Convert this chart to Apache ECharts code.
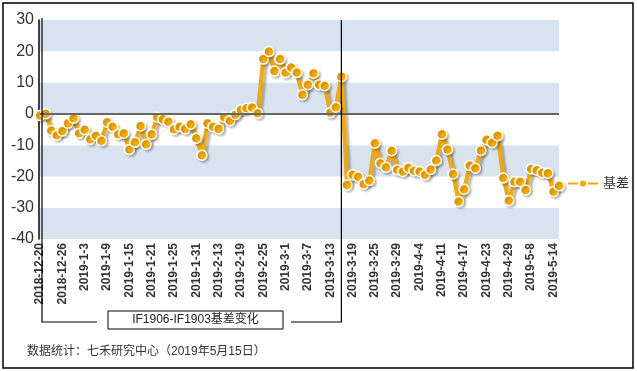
<!DOCTYPE html>
<html><head><meta charset="utf-8">
<script src="https://cdn.jsdelivr.net/npm/echarts@6/dist/echarts.min.js"></script>
<style>html,body{margin:0;padding:0;background:#fff}#c{width:637px;height:371px}</style>
</head><body><div id="c"></div>
<script>
var dates = ['2018-12-20','2018-12-21','2018-12-24','2018-12-25','2018-12-26','2018-12-27','2018-12-28',
'2019-1-2','2019-1-3','2019-1-4','2019-1-7','2019-1-8','2019-1-9','2019-1-10','2019-1-11','2019-1-14','2019-1-15',
'2019-1-16','2019-1-17','2019-1-18','2019-1-21','2019-1-22','2019-1-23','2019-1-24','2019-1-25','2019-1-28',
'2019-1-29','2019-1-30','2019-1-31','2019-2-1','2019-2-11','2019-2-12','2019-2-13','2019-2-14','2019-2-15',
'2019-2-18','2019-2-19','2019-2-20','2019-2-21','2019-2-22','2019-2-25','2019-2-26','2019-2-27','2019-2-28',
'2019-3-1','2019-3-4','2019-3-5','2019-3-6','2019-3-7','2019-3-8','2019-3-11','2019-3-12','2019-3-13',
'2019-3-14','2019-3-15','2019-3-18','2019-3-19','2019-3-20','2019-3-21','2019-3-22','2019-3-25','2019-3-26',
'2019-3-27','2019-3-28','2019-3-29','2019-4-1','2019-4-2','2019-4-3','2019-4-4','2019-4-8','2019-4-9',
'2019-4-10','2019-4-11','2019-4-12','2019-4-15','2019-4-16','2019-4-17','2019-4-18','2019-4-19','2019-4-22',
'2019-4-23','2019-4-24','2019-4-25','2019-4-26','2019-4-29','2019-4-30','2019-5-6','2019-5-7','2019-5-8',
'2019-5-9','2019-5-10','2019-5-13','2019-5-14','2019-5-15'];

var basis = [-0.5,0,-5.3,-6.8,-5.5,-3,-1.4,-6.2,-5.1,-8.1,
-7,-8.6,-2.7,-4.1,-6.5,-6.2,-11.4,-9.1,-3.9,-9.7,
-6.5,-1.1,-1.7,-2.5,-4.9,-4.1,-4.8,-3.3,-7.8,-13.2,
-3,-4.1,-4.8,-1.1,-2.2,-0.3,1.3,1.8,2,0.2,
17.5,19.9,13.7,17.5,13.2,14.8,13.2,6.1,9.3,13,
9.3,9,0.4,2.1,11.9,-22.7,-19.5,-20.1,-22.4,-21.3,
-9.4,-15.8,-17.1,-11.8,-17.9,-18.4,-17.2,-18.2,-18.4,-19.5,
-17.8,-14.9,-6.5,-11.4,-19.2,-28,-24.1,-16.5,-17.4,-11.7,
-8.3,-9.2,-7,-20.5,-27.7,-21.7,-21.7,-24.3,-17.6,-18,
-18.8,-19,-24.8,-23];

var seriesName = '基差';
var yMin = -40, yMax = 30, yStep = 10;
var splitDate = '2019-3-15';
var bracketTitle = 'IF1906-IF1903基差变化';
var sourceNote = '数据统计：七禾研究中心（2019年5月15日）';

var chart = echarts.init(document.getElementById('c'), null, {renderer:'canvas'});
var font = '"Liberation Sans", Arial, "Noto Sans CJK SC", sans-serif';
chart.setOption({
  animation:false,
  grid:{left:40, right:78, top:20, bottom:132, containLabel:false},
  legend:{data:[seriesName], left:562, top:172, itemWidth:30, itemHeight:10, itemGap:6,
    textStyle:{fontSize:13, color:'#333', fontFamily:font}},
  xAxis:{type:'category', data:dates, boundaryGap:false,
    axisLine:{show:false}, axisTick:{show:false},
    axisLabel:{rotate:90, interval:3, fontSize:12, fontWeight:'bold', color:'#333', margin:4, fontFamily:font}},
  yAxis:{type:'value', min:yMin, max:yMax, interval:yStep, offset:1,
    axisLine:{show:true, lineStyle:{color:'#000', width:1.5}}, axisTick:{show:false},
    axisLabel:{fontSize:16, color:'#333', margin:5, fontFamily:font},
    splitLine:{show:false},
    splitArea:{show:true, areaStyle:{color:['#d9e3ef','#ffffff']}}},
  series:[{name:seriesName, type:'line', data:basis, symbol:'circle', symbolSize:10,
    showSymbol:true, showAllSymbol:true,
    lineStyle:{color:'#f5a800', width:4, shadowColor:'rgba(0,0,0,0.28)', shadowBlur:2, shadowOffsetX:3, shadowOffsetY:3},
    itemStyle:{color:'#f5a800', borderColor:'#fff', borderWidth:1.5, shadowColor:'rgba(0,0,0,0.2)', shadowBlur:2, shadowOffsetX:2, shadowOffsetY:2},
    markLine:{silent:true, symbol:'none', label:{show:false}, data:[{yAxis:0}],
      lineStyle:{color:'#666', width:2, type:'solid'}}, z:3}]
});

var p0 = chart.convertToPixel({xAxisIndex:0}, dates[0]);
var pS = chart.convertToPixel({xAxisIndex:0}, splitDate);
var yTop = chart.convertToPixel({yAxisIndex:0}, yMax);
var lx = p0 + 2, rx = pS, by = 322;
chart.setOption({graphic:[
  {type:'rect', shape:{x:3, y:3, width:630, height:365}, style:{fill:'none', stroke:'#000', lineWidth:1.5}, z:100},
  {type:'polyline', shape:{points:[[lx, yTop-2],[lx, by],[97, by]]}, style:{fill:null, stroke:'#000', lineWidth:1.2}, z:100},
  {type:'polyline', shape:{points:[[291, by],[rx, by],[rx, yTop]]}, style:{fill:null, stroke:'#000', lineWidth:1.2}, z:100},
  {type:'rect', shape:{x:108, y:311, width:175, height:18}, style:{fill:'#fff', stroke:'#000', lineWidth:1}, z:100},
  {type:'text', x:195.5, y:320, style:{text:bracketTitle, fill:'#222', font:'12px '+font, textAlign:'center', textVerticalAlign:'middle'}, z:101},
  {type:'text', x:27, y:352, style:{text:sourceNote, fill:'#333', font:'12px '+font, textAlign:'left', textVerticalAlign:'middle'}, z:101}
]});
</script></body></html>
